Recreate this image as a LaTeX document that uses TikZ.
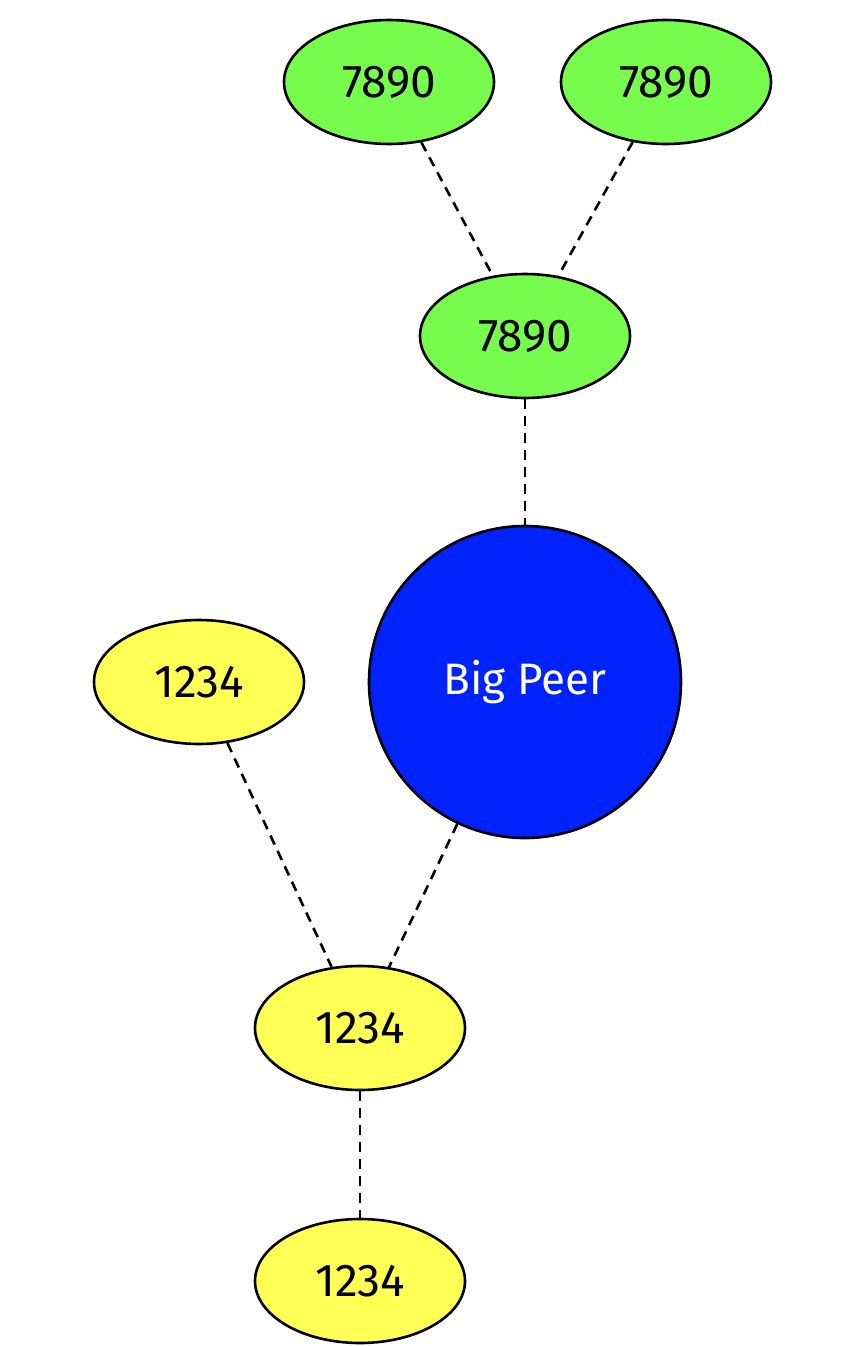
\documentclass[tikz,border=0pt]{standalone}
\usepackage{fontspec}
\setmainfont{Fira Sans}
\usetikzlibrary{shapes.geometric}
\definecolor{peergreen}{RGB}{119,252,77}
\definecolor{peeryellow}{RGB}{255,255,85}
\definecolor{peerblue}{RGB}{0,34,252}
\tikzset{
  peer/.style={ellipse, draw=black, line width=2.6pt, minimum width=210pt, minimum height=124pt, inner sep=0pt, font=\fontsize{46}{50}\selectfont},
  greenpeer/.style={peer, fill=peergreen},
  yellowpeer/.style={peer, fill=peeryellow},
  bigpeer/.style={circle, draw=black, line width=2.6pt, fill=peerblue, minimum size=312pt, inner sep=0pt, text=white, font=\fontsize{44}{48}\selectfont},
  link/.style={draw=black, line width=2.6pt, dash pattern=on 10pt off 7pt}
}
\begin{document}
\begin{tikzpicture}[x=1pt,y=-1pt]
\useasboundingbox (0,0) rectangle (846,1346);
\node[greenpeer] (g1) at (389,82) {7890};
\node[greenpeer] (g2) at (666,82) {7890};
\node[greenpeer] (g3) at (525,336) {7890};
\node[bigpeer] (big) at (525,682) {Big Peer};
\node[yellowpeer] (y1) at (199,682) {1234};
\node[yellowpeer] (y2) at (360,1028) {1234};
\node[yellowpeer] (y3) at (360,1281) {1234};
\draw[link] (g1) -- (g3);
\draw[link] (g2) -- (g3);
\draw[link] (g3) -- (big);
\draw[link] (y1) -- (y2);
\draw[link] (big) -- (y2);
\draw[link] (y2) -- (y3);
\end{tikzpicture}
\end{document}
